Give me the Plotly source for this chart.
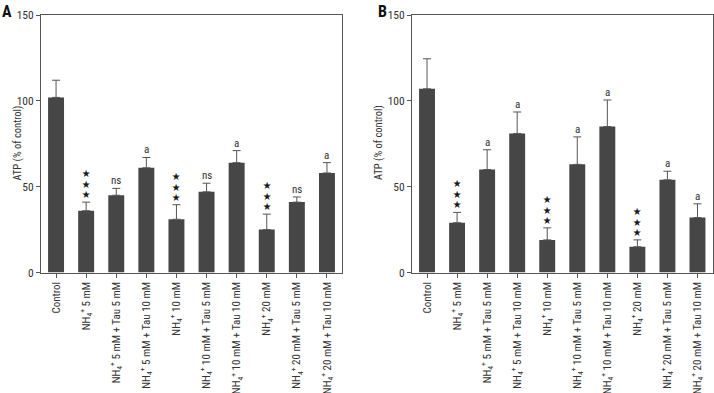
import plotly.graph_objects as go

NH = "NH<sub>4</sub><sup>+</sup>"
categories = [
    "Control",
    NH + " 5 mM",
    NH + " 5 mM + Tau 5 mM",
    NH + " 5 mM + Tau 10 mM",
    NH + " 10 mM",
    NH + " 10 mM + Tau 5 mM",
    NH + " 10 mM + Tau 10 mM",
    NH + " 20 mM",
    NH + " 20 mM + Tau 5 mM",
    NH + " 20 mM + Tau 10 mM",
]

atp_a = [102, 36, 45, 61, 31, 47, 64, 25, 41, 58]
err_a = [10, 5, 4, 6, 8.5, 5, 7, 9, 3, 6]
sig_a = ["", "***", "ns", "a", "***", "ns", "a", "***", "ns", "a"]

atp_b = [107, 29, 60, 81, 19, 63, 85, 15, 54, 32]
err_b = [17.5, 6, 11.5, 12.5, 7, 16, 15.5, 4, 5, 8]
sig_b = ["", "***", "a", "a", "***", "a", "a", "***", "a", "a"]

y_ticks = [0, 50, 100, 150]
y_title = "ATP (% of control)"

FONT = "Liberation Sans Narrow, Arial Narrow, Roboto Condensed, sans-serif"
BAR = "#464646"
LINE = "#555555"
W, H = 714, 393

fig = go.Figure()

panels = [
    ("x", "y", atp_a, err_a, sig_a),
    ("x2", "y2", atp_b, err_b, sig_b),
]

annotations = []
for xa, ya, vals, errs, sigs in panels:
    fig.add_trace(go.Bar(
        x=categories, y=vals, xaxis=xa, yaxis=ya,
        marker=dict(color=BAR, line=dict(width=0)),
        error_y=dict(type="data", symmetric=False, array=errs,
                     arrayminus=[0] * len(errs), color=LINE,
                     thickness=1, width=4),
        showlegend=False, hoverinfo="skip",
    ))
    for c, v, e, s in zip(categories, vals, errs, sigs):
        top = v + e
        if s == "***":
            annotations.append(dict(
                x=c, y=top, xref=xa, yref=ya, text="★<br>★<br>★", showarrow=False,
                yanchor="bottom", yshift=2, borderpad=0,
                font=dict(family="Noto Sans CJK SC", size=8.2, color="#1a1a1a"),
            ))
        elif s:
            annotations.append(dict(
                x=c, y=top, xref=xa, yref=ya, text=s, showarrow=False,
                yanchor="bottom", yshift=-1,
                font=dict(family=FONT, size=11, color="#333"),
            ))

axis_common = dict(
    showline=True, linecolor=LINE, linewidth=1, mirror=True,
    ticks="outside", ticklen=4, tickcolor=LINE, showgrid=False, zeroline=False,
)

ydom = [1 - 272.5 / H, 1 - 15 / H]
fig.update_layout(
    width=W, height=H,
    margin=dict(l=0, r=0, t=0, b=0),
    paper_bgcolor="white", plot_bgcolor="white",
    bargap=0.47,
    font=dict(family=FONT, size=11, color="#333"),
    xaxis=dict(domain=[41 / W, 342 / W], anchor="y", tickangle=-90,
               tickfont=dict(size=11), automargin=False, **axis_common),
    xaxis2=dict(domain=[412 / W, 712.5 / W], anchor="y2", tickangle=-90,
                tickfont=dict(size=11), automargin=False, **axis_common),
    yaxis=dict(domain=ydom, anchor="x", range=[0, 150], tickvals=y_ticks,
               tickfont=dict(size=11.5), automargin=False, **axis_common),
    yaxis2=dict(domain=ydom, anchor="x2", range=[0, 150], tickvals=y_ticks,
                tickfont=dict(size=11.5), automargin=False, **axis_common),
    annotations=annotations + [
        dict(x=8 / W, y=1 - 143 / H, xref="paper", yref="paper", text=y_title,
             textangle=-90, showarrow=False, font=dict(size=10.5, color="#333")),
        dict(x=378 / W, y=1 - 143 / H, xref="paper", yref="paper", text=y_title,
             textangle=-90, showarrow=False, font=dict(size=10.5, color="#333")),
        dict(x=0, y=1, xref="paper", yref="paper", text="<b>A</b>",
             xanchor="left", yanchor="top", xshift=1, yshift=-1, borderpad=0,
             showarrow=False, font=dict(family=FONT, size=16, color="#111")),
        dict(x=377 / W, y=1, xref="paper", yref="paper", text="<b>B</b>",
             xanchor="left", yanchor="top", yshift=-1, borderpad=0,
             showarrow=False, font=dict(family=FONT, size=16, color="#111")),
    ],
)

fig.write_html("out.html", config={"displayModeBar": False},
               post_script="document.body.style.margin='0';")
